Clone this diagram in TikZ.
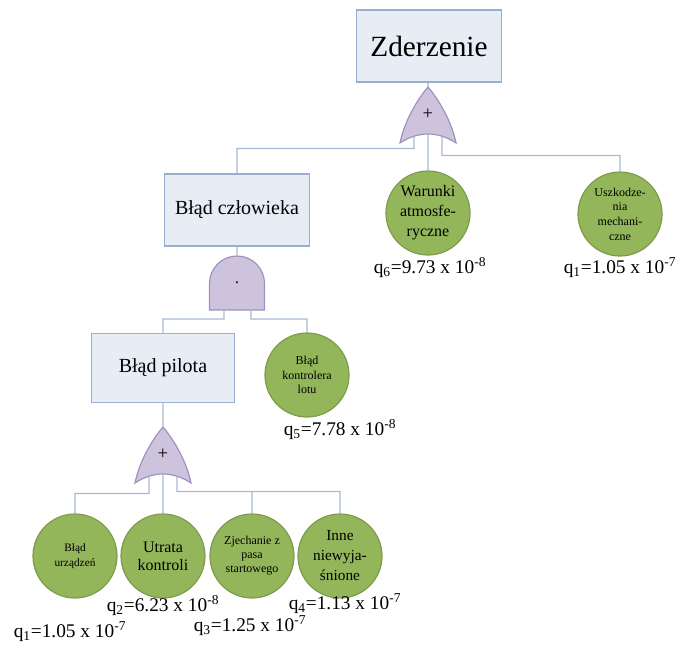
\documentclass[tikz,border=0pt]{standalone}
\usepackage{fontspec}
\setmainfont{Liberation Serif}
\usepackage{tikz}
\usetikzlibrary{positioning}

\definecolor{boxfill}{HTML}{E6EDF5}
\definecolor{boxline}{HTML}{98AFCF}
\definecolor{leaffill}{HTML}{94B65A}
\definecolor{leafline}{HTML}{7D9B4A}
\definecolor{gatefill}{HTML}{CEC3DD}
\definecolor{gateline}{HTML}{9C94BE}
\definecolor{wirecol}{HTML}{A7B9D1}

\newcommand{\fs}[2]{\fontsize{#1}{#2}\selectfont}

\begin{document}
\begin{tikzpicture}[x=0.75pt,y=-0.75pt,semithick]
		\tikzstyle{event}=[draw=boxline,fill=boxfill,line width=0.9pt,minimum width=109pt,minimum height=54pt]
		\tikzstyle{leaf}=[circle,draw=leafline,fill=leaffill,line width=0.9pt,minimum size=63pt,inner sep=0pt,align=center]
		\tikzstyle{gate}=[draw=gateline,fill=gatefill,line width=0.9pt]
		\tikzstyle{wire}=[draw=wirecol,line width=1pt]
		\tikzstyle{prob}=[inner sep=0pt,font=\fs{14.5}{16}]
		\tikzset{
			orgate/.pic={
				\path[gate] (0,0) .. controls (-12,14) and (-24,36) .. (-28,56)
					.. controls (-10,44) and (10,44) .. (28,56)
					.. controls (24,36) and (12,14) .. (0,0) -- cycle;
				\node[font=\fs{14}{14}] at (0,27) {+};
				\coordinate (-t) at (0,0);
				\coordinate (-l) at (-14,49.5);
				\coordinate (-c) at (0,47);
				\coordinate (-r) at (14,49.5);
			},
			andgate/.pic={
				\path[gate] (-27.5,54) -- (-27.5,27.5) arc[start angle=180,end angle=360,radius=27.5] -- (27.5,54) -- cycle;
				\node[font=\fs{14}{14}] at (0,27) {$\cdot$};
				\coordinate (-t) at (0,0);
				\coordinate (-l) at (-13,54);
				\coordinate (-r) at (14,54);
			}
		}
		\useasboundingbox (0,0) rectangle (678,650);

		\node[event,font=\fs{22}{24}] (zd) at (429,46) {Zderzenie};
		\node[event,font=\fs{15}{17}] (czl) at (237,210) {Błąd człowieka};
		\node[event,font=\fs{15}{17},minimum width=107pt,minimum height=52pt] (pil) at (163,368) {Błąd pilota};

		\pic (g1) at (428,87) {orgate};
		\pic (g2) at (237,256) {andgate};
		\pic (g3) at (163,427) {orgate};

		\node[leaf,font=\fs{12}{15}] (war) at (428,213) {Warunki\\atmosfe-\\ryczne};
		\node[leaf,font=\fs{9}{11}] (usz) at (620,214) {Uszkodze-\\nia\\mechani-\\czne};
		\node[leaf,font=\fs{9}{11}] (kon) at (307,375) {Błąd\\kontrolera\\lotu};
		\node[leaf,font=\fs{8.5}{11}] (urz) at (75,556) {Błąd\\urządzeń};
		\node[leaf,font=\fs{12}{13.5}] (utr) at (163,556) {Utrata\\kontroli};
		\node[leaf,font=\fs{9}{10.5}] (zje) at (252,556) {Zjechanie z\\pasa\\startowego};
		\node[leaf,font=\fs{11.5}{15}] (inn) at (340,556) {Inne\\niewyja-\\śnione};

		\node[prob] (p6) at (430,268) {q\textsubscript{6}=9.73 x 10\textsuperscript{-8}};
		\node[prob] (p7) at (620,268) {q\textsubscript{1}=1.05 x 10\textsuperscript{-7}};
		\node[prob] (p5) at (340,430) {q\textsubscript{5}=7.78 x 10\textsuperscript{-8}};
		\node[prob] (p2) at (163,606) {q\textsubscript{2}=6.23 x 10\textsuperscript{-8}};
		\node[prob] (p4) at (345,604) {q\textsubscript{4}=1.13 x 10\textsuperscript{-7}};
		\node[prob] (p1) at (70,632) {q\textsubscript{1}=1.05 x 10\textsuperscript{-7}};
		\node[prob] (p3) at (250,626) {q\textsubscript{3}=1.25 x 10\textsuperscript{-7}};

		\path[wire]
		(zd) -- (g1-t)
		(g1-l) -- ++(0,12) -| (czl)
		(g1-c) -- (war)
		(g1-r) -- ++(0,19) -| (usz)
		(czl) -- (g2-t)
		(g2-l) -- ++(0,9) -| (pil)
		(g2-r) -- ++(0,9) -| (kon)
		(pil) -- (g3-t)
		(g3-l) -- ++(0,17) -| (urz)
		(g3-c) -- (utr)
		(g3-r) -- ++(0,15) coordinate (j) -| (inn)
		(j -| zje) -- (zje);
	\end{tikzpicture}
\end{document}
